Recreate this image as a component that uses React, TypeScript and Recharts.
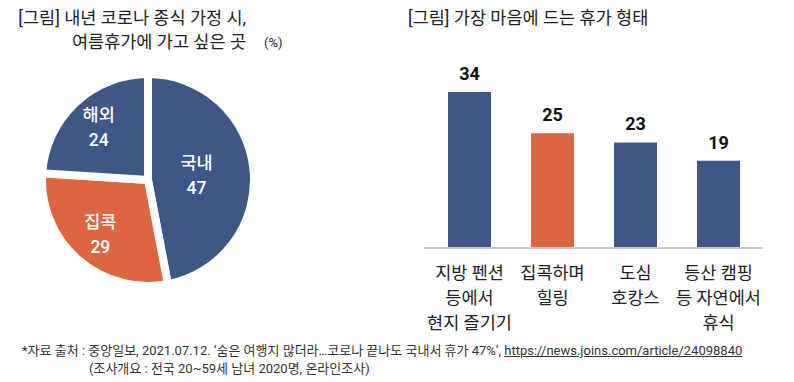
import { PieChart, Pie, Cell, BarChart, Bar, XAxis, YAxis, LabelList } from "recharts";

// pie: 여름휴가에 가고 싶은 곳 (%)
const pieNames = ["국내", "집콕", "해외"];
const pieValues = [47, 29, 24];

// bar: 가장 마음에 드는 휴가 형태
const barLabels = [
  "지방 펜션\n등에서\n현지 즐기기",
  "집콕하며\n힐링",
  "도심\n호캉스",
  "등산 캠핑\n등 자연에서\n휴식",
];
const barValues = [34, 25, 23, 19];

const BLUE = "#3f5787";
const ORANGE = "#dc6642";
const FONT = 'Roboto, "Noto Sans CJK KR", "Noto Sans", sans-serif';

const pieColors = [BLUE, ORANGE, BLUE];
const highlightBar = 1;

const pieData = pieNames.map((name, i) => ({ name, value: pieValues[i] }));
const barData = barLabels.map((name, i) => ({ name, value: barValues[i] }));

const RAD = Math.PI / 180;

const renderPieLabel = (props: any) => {
  const { cx, cy, midAngle, outerRadius, name, value } = props;
  // the big slice keeps its label nearer the centre
  const ratio = name === "국내" ? 0.46 : 0.68;
  const r = outerRadius * ratio;
  const x = cx + r * Math.cos(-midAngle * RAD);
  const y = cy + r * Math.sin(-midAngle * RAD);
  return (
    <text x={x} y={y} fill="#fff" textAnchor="middle" fontSize={17.5} fontWeight={500} fontFamily={FONT}>
      <tspan x={x} y={y - 6}>{name}</tspan>
      <tspan x={x} y={y + 19}>{value}</tspan>
    </text>
  );
};

const BarTick = (props: any) => {
  const { x, y, payload } = props;
  const lines = String(payload.value).split("\n");
  return (
    <text x={x} y={y} textAnchor="middle" fill="#222" fontSize={17.5} fontFamily={FONT}>
      {lines.map((l, i) => (
        <tspan key={i} x={x} y={y + 29 + i * 25}>
          {l}
        </tspan>
      ))}
    </text>
  );
};

const App = () => {
  return (
    <div
      style={{
        position: "absolute",
        left: 0,
        top: 0,
        width: 794,
        height: 382,
        background: "#fff",
        fontFamily: FONT,
        color: "#222",
        overflow: "hidden",
      }}
    >
      <div
        style={{
          position: "absolute",
          left: 6,
          top: 6,
          width: 240,
          textAlign: "right",
          fontSize: 17.5,
          lineHeight: "24px",
          whiteSpace: "nowrap",
        }}
      >
        [그림] 내년 코로나 종식 가정 시,
        <br />
        여름휴가에 가고 싶은 곳
      </div>
      <div style={{ position: "absolute", left: 264, top: 34, fontSize: 13, lineHeight: "18px" }}>(%)</div>

      <div style={{ position: "absolute", left: 408, top: 6, fontSize: 17.5, lineHeight: "24px", whiteSpace: "nowrap" }}>
        [그림] 가장 마음에 드는 휴가 형태
      </div>

      <div style={{ position: "absolute", left: 0, top: 0 }}>
        <PieChart width={300} height={382} margin={{ top: 0, right: 0, bottom: 0, left: 0 }}>
          <Pie
            data={pieData}
            dataKey="value"
            nameKey="name"
            cx={148}
            cy={180}
            outerRadius={106}
            startAngle={90}
            endAngle={-270}
            stroke="#fff"
            strokeWidth={8}
            label={renderPieLabel}
            labelLine={false}
            isAnimationActive={false}
          >
            {pieData.map((d, i) => (
              <Cell key={d.name} fill={pieColors[i]} />
            ))}
          </Pie>
        </PieChart>
      </div>

      <div style={{ position: "absolute", left: 400, top: 0 }}>
        <BarChart width={394} height={382} data={barData} margin={{ top: 92, right: 31, bottom: 54, left: 24 }}>
          <XAxis
            dataKey="name"
            axisLine={{ stroke: "#c9c9c9", strokeWidth: 2 }}
            tickLine={false}
            tickSize={0}
            tick={<BarTick />}
            height={80}
            interval={0}
            padding={{ left: 4, right: 3 }}
          />
          <YAxis hide domain={[0, 34]} allowDataOverflow />
          <Bar dataKey="value" barSize={43} isAnimationActive={false}>
            {barData.map((d, i) => (
              <Cell key={d.name} fill={i === highlightBar ? ORANGE : BLUE} />
            ))}
            <LabelList dataKey="value" position="top" offset={12} fill="#111" fontSize={18} fontWeight={700} fontFamily={FONT} />
          </Bar>
        </BarChart>
      </div>

      <div style={{ position: "absolute", left: 22, top: 342, fontSize: 13, lineHeight: "18px", color: "#333", whiteSpace: "nowrap" }}>
        *자료 출처 : 중앙일보, 2021.07.12. ‘숨은 여행지 많더라…코로나 끝나도 국내서 휴가 47%’,{" "}
        <span style={{ textDecoration: "underline" }}>https://news.joins.com/article/24098840</span>
        <br />
        <span style={{ marginLeft: 67 }}>(조사개요 : 전국 20~59세 남녀 2020명, 온라인조사)</span>
      </div>
    </div>
  );
};

export default App;
